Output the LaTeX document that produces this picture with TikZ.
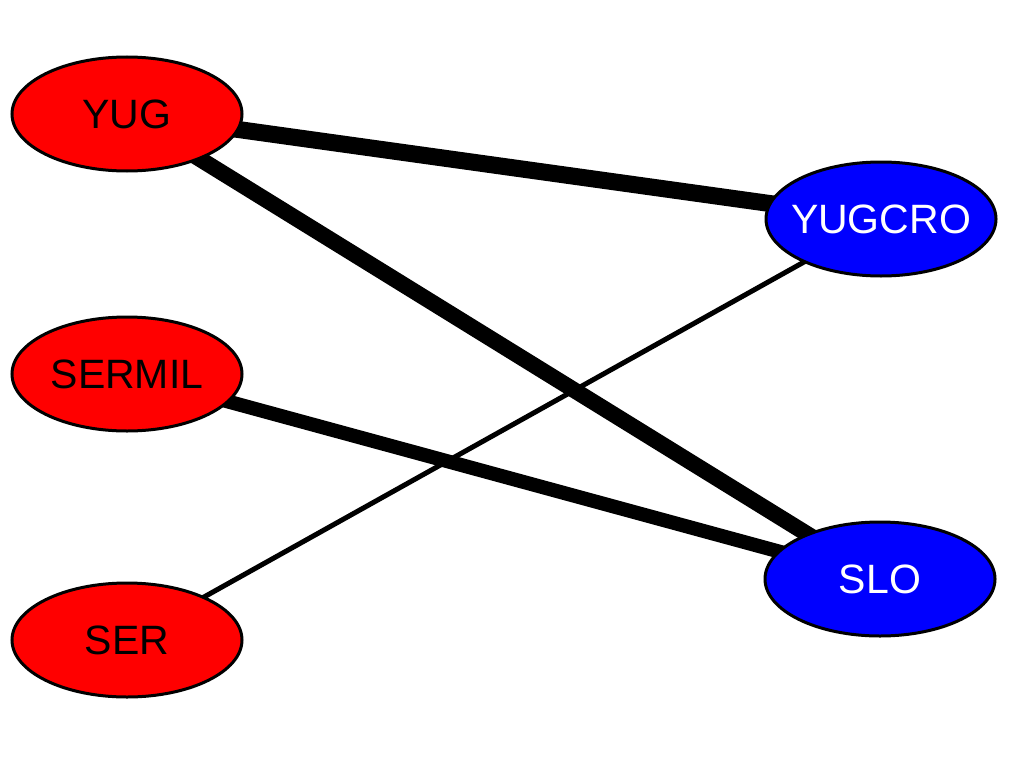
\documentclass[tikz,border=0pt]{standalone}
\usepackage{fontspec}
\setmainfont{Liberation Sans}
\usetikzlibrary{shapes.geometric}
\usetikzlibrary{backgrounds}
\definecolor{redfill}{RGB}{255,0,0}
\definecolor{bluefill}{RGB}{0,0,255}
\tikzset{party/.style={draw, ellipse, line width=3pt, inner xsep=-30pt, inner ysep=0pt,
    minimum width=230pt, minimum height=114pt, font=\fontsize{41}{48}\selectfont}}
\tikzset{left party/.style={party, fill=redfill, text=black}}
\tikzset{right party/.style={party, fill=bluefill, text=white}}

\begin{document}
\begin{tikzpicture}[x=1pt, y=-1pt]
  \useasboundingbox (0, 0) rectangle (1024, 768);

  \node[left party] at (127, 114) (yug) {YUG};
  \node[left party] at (127, 374) (sermil) {SERMIL};
  \node[left party] at (127, 640) (ser) {SER};
  \node[right party] at (881, 219) (yugcro) {YUGCRO};
  \node[right party] at (880, 579) (slo) {SLO};

  % links, behind the ellipses
  \begin{scope}[on background layer]
    \draw[line width=17pt] (yug.center) -- (yugcro.center);
    \draw[line width=16pt] (yug.center) -- (slo.center);
    \draw[line width=14pt] (sermil.center) -- (slo.center);
    \draw[line width=5pt] (ser.center) -- (yugcro.center);
  \end{scope}
\end{tikzpicture}
\end{document}
